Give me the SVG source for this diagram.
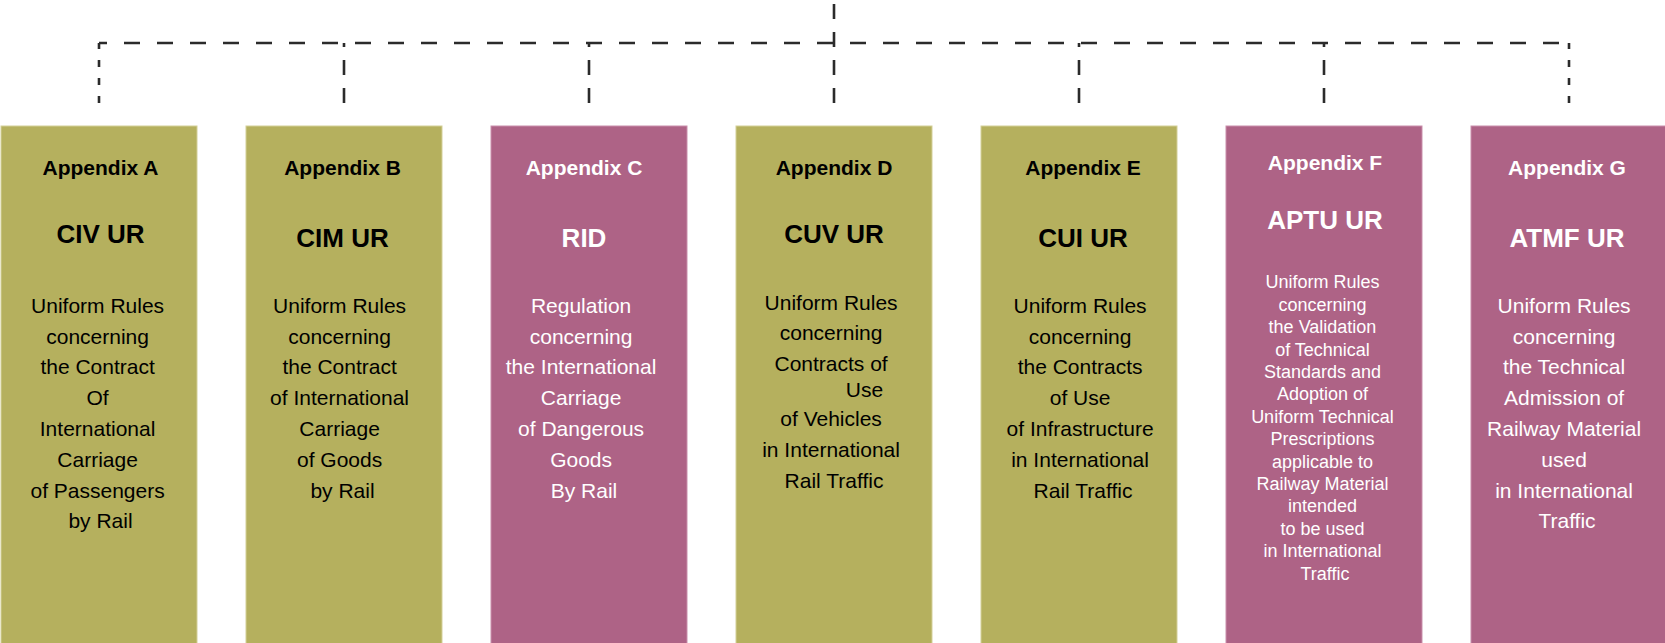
<svg xmlns="http://www.w3.org/2000/svg" width="1665" height="643" viewBox="0 0 1665 643">
<style>
.olive{fill:#B5B05E;stroke:#D3CF98;stroke-width:1}
.mag{fill:#AE6386;stroke:#C98FAB;stroke-width:1}
text{font-family:"Liberation Sans",Arial,sans-serif;text-anchor:middle}
.app{font-size:21px;font-weight:bold}
.ttl{font-size:26px;font-weight:bold}
.body{font-size:21px}
.small{font-size:18px}
.dk{fill:#000}
.wt{fill:#fff}
.conn{fill:none;stroke:#2b2b2b;stroke-width:2.6}
</style>
<rect width="1665" height="643" fill="#fff"/>
<g id="connectors">
<path class="conn" d="M99 43 H1569" stroke-dasharray="16 17" stroke-dashoffset="8"/>
<path class="conn" d="M834 103 V0" stroke-dasharray="15 13"/>
<path class="conn" d="M99 103 V43" stroke-dasharray="7 11"/>
<path class="conn" d="M1569 103 V43" stroke-dasharray="7 11"/>
<path class="conn" d="M344 103 V43" stroke-dasharray="15 13"/>
<path class="conn" d="M589 103 V43" stroke-dasharray="15 13"/>
<path class="conn" d="M1079 103 V43" stroke-dasharray="15 13"/>
<path class="conn" d="M1324 103 V43" stroke-dasharray="15 13"/>
</g>
<g id="appendixA">
<rect class="olive" x="1" y="126" width="196" height="520"/>
<text class="app dk" x="100.5" y="175">Appendix A</text>
<text class="ttl dk" x="100.5" y="243.3">CIV UR</text>
<text class="body dk">
<tspan x="100.5" y="312.7">Uniform Rules</tspan>
<tspan x="100.5" y="343.5">concerning</tspan>
<tspan x="100.5" y="374.3">the Contract</tspan>
<tspan x="100.5" y="405.1">Of</tspan>
<tspan x="100.5" y="435.9">International</tspan>
<tspan x="100.5" y="466.7">Carriage</tspan>
<tspan x="100.5" y="497.5">of Passengers</tspan>
<tspan x="100.5" y="528.3">by Rail</tspan>
</text>
</g>
<g id="appendixB">
<rect class="olive" x="246" y="126" width="196" height="520"/>
<text class="app dk" x="342.5" y="175">Appendix B</text>
<text class="ttl dk" x="342.5" y="247">CIM UR</text>
<text class="body dk">
<tspan x="342.5" y="312.7">Uniform Rules</tspan>
<tspan x="342.5" y="343.5">concerning</tspan>
<tspan x="342.5" y="374.3">the Contract</tspan>
<tspan x="342.5" y="405.1">of International</tspan>
<tspan x="342.5" y="435.9">Carriage</tspan>
<tspan x="342.5" y="466.7">of Goods</tspan>
<tspan x="342.5" y="497.5">by Rail</tspan>
</text>
</g>
<g id="appendixC">
<rect class="mag" x="491" y="126" width="196" height="520"/>
<text class="app wt" x="584" y="175">Appendix C</text>
<text class="ttl wt" x="584" y="246.7">RID</text>
<text class="body wt">
<tspan x="584" y="312.7">Regulation</tspan>
<tspan x="584" y="343.5">concerning</tspan>
<tspan x="584" y="374.3">the International</tspan>
<tspan x="584" y="405.1">Carriage</tspan>
<tspan x="584" y="435.9">of Dangerous</tspan>
<tspan x="584" y="466.7">Goods</tspan>
<tspan x="584" y="497.5">By Rail</tspan>
</text>
</g>
<g id="appendixD">
<rect class="olive" x="736" y="126" width="196" height="520"/>
<text class="app dk" x="834" y="175">Appendix D</text>
<text class="ttl dk" x="834" y="243.3">CUV UR</text>
<text class="body dk">
<tspan x="834" y="310">Uniform Rules</tspan>
<tspan x="834" y="340">concerning</tspan>
<tspan x="834" y="370.7">Contracts of</tspan>
<tspan x="889" y="396.7" style="text-anchor:end">Use</tspan>
<tspan x="834" y="426">of Vehicles</tspan>
<tspan x="834" y="457.3">in International</tspan>
<tspan x="834" y="488.3">Rail Traffic</tspan>
</text>
</g>
<g id="appendixE">
<rect class="olive" x="981" y="126" width="196" height="520"/>
<text class="app dk" x="1083" y="175">Appendix E</text>
<text class="ttl dk" x="1083" y="246.7">CUI UR</text>
<text class="body dk">
<tspan x="1083" y="312.7">Uniform Rules</tspan>
<tspan x="1083" y="343.5">concerning</tspan>
<tspan x="1083" y="374.3">the Contracts</tspan>
<tspan x="1083" y="405.1">of Use</tspan>
<tspan x="1083" y="435.9">of Infrastructure</tspan>
<tspan x="1083" y="466.7">in International</tspan>
<tspan x="1083" y="497.5">Rail Traffic</tspan>
</text>
</g>
<g id="appendixF">
<rect class="mag" x="1226" y="126" width="196" height="520"/>
<text class="app wt" x="1325" y="170">Appendix F</text>
<text class="ttl wt" x="1325" y="229.3">APTU UR</text>
<text class="small wt">
<tspan x="1325" y="288.3">Uniform Rules</tspan>
<tspan x="1325" y="310.7">concerning</tspan>
<tspan x="1325" y="333.1">the Validation</tspan>
<tspan x="1325" y="355.5">of Technical</tspan>
<tspan x="1325" y="377.9">Standards and</tspan>
<tspan x="1325" y="400.3">Adoption of</tspan>
<tspan x="1325" y="422.7">Uniform Technical</tspan>
<tspan x="1325" y="445.1">Prescriptions</tspan>
<tspan x="1325" y="467.5">applicable to</tspan>
<tspan x="1325" y="489.9">Railway Material</tspan>
<tspan x="1325" y="512.3">intended</tspan>
<tspan x="1325" y="534.7">to be used</tspan>
<tspan x="1325" y="557.1">in International</tspan>
<tspan x="1325" y="579.5">Traffic</tspan>
</text>
</g>
<g id="appendixG">
<rect class="mag" x="1471" y="126" width="196" height="520"/>
<text class="app wt" x="1567" y="175">Appendix G</text>
<text class="ttl wt" x="1567" y="246.7">ATMF UR</text>
<text class="body wt">
<tspan x="1567" y="312.7">Uniform Rules</tspan>
<tspan x="1567" y="343.5">concerning</tspan>
<tspan x="1567" y="374.3">the Technical</tspan>
<tspan x="1567" y="405.1">Admission of</tspan>
<tspan x="1567" y="435.9">Railway Material</tspan>
<tspan x="1567" y="466.7">used</tspan>
<tspan x="1567" y="497.5">in International</tspan>
<tspan x="1567" y="528.3">Traffic</tspan>
</text>
</g>
</svg>
